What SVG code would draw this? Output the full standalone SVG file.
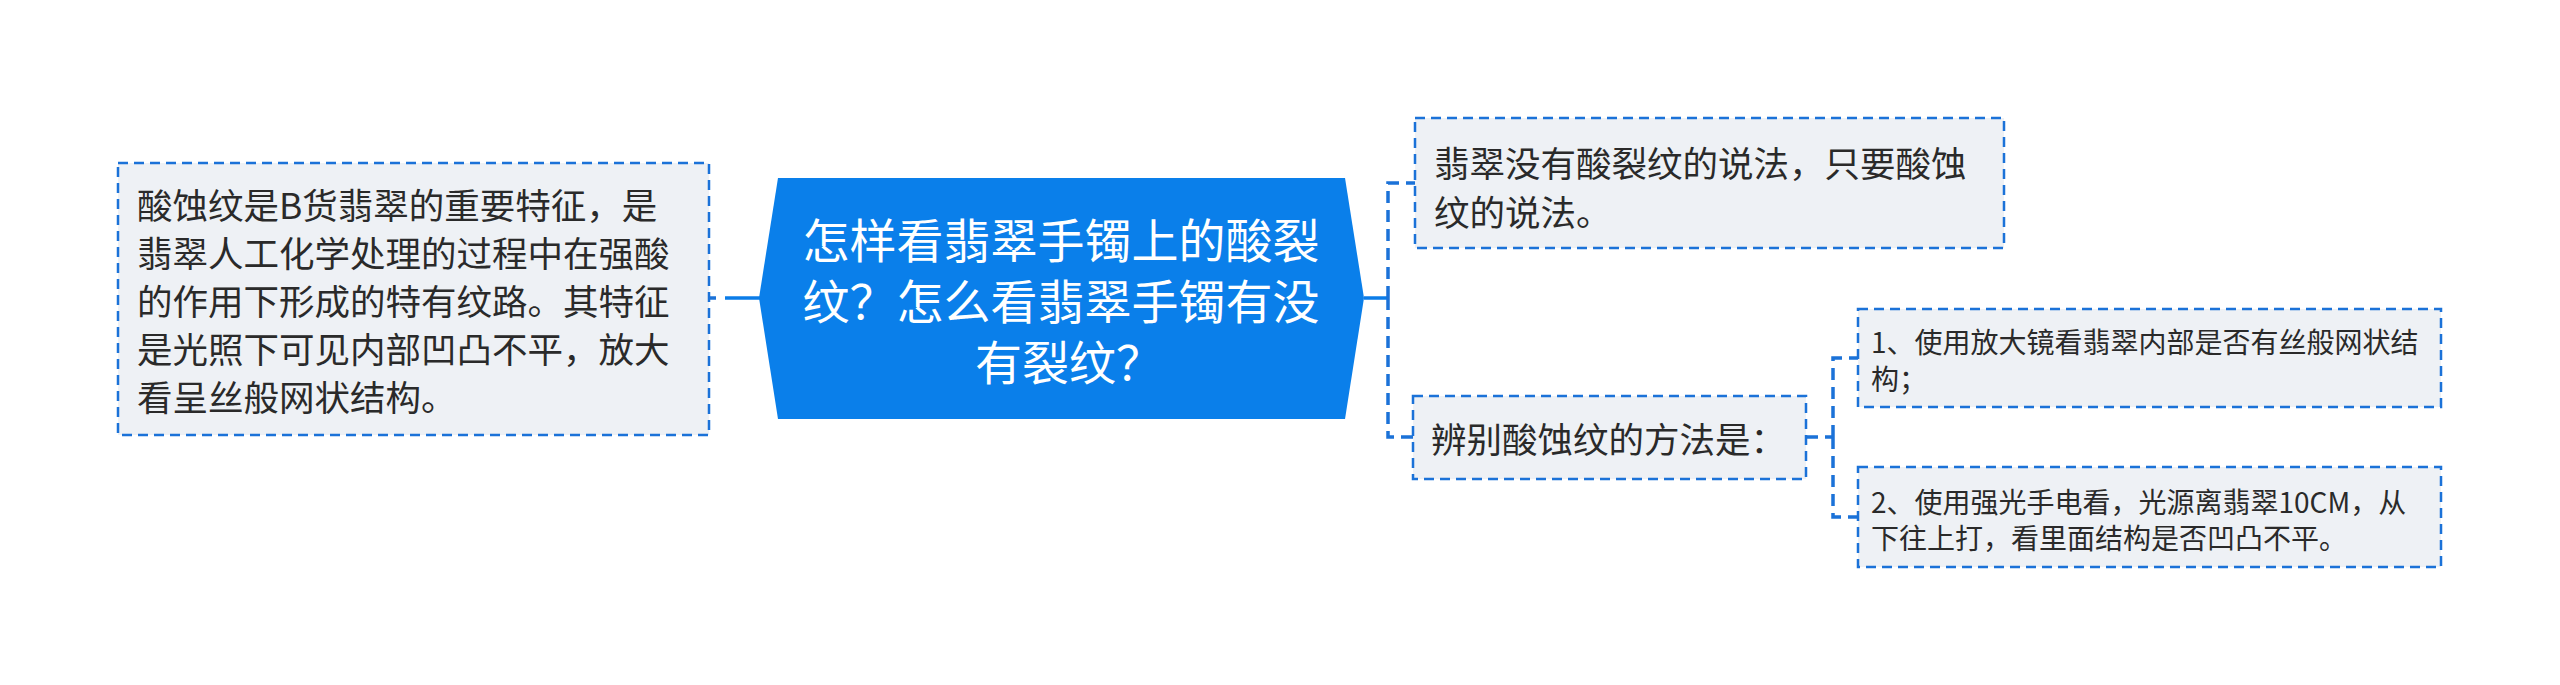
<svg xmlns="http://www.w3.org/2000/svg" width="2560" height="685" viewBox="0 0 2560 685">
<style>
.box{fill:#eef1f5;stroke:#1b72d8;stroke-width:2.5;stroke-dasharray:10 6}
.t{font-family:"Noto Sans CJK SC","Noto Sans",sans-serif;fill:#2a2a2a;dominant-baseline:central}
.big{font-size:35.5px}
.small{font-size:28px}
.ct{font-family:"Noto Sans CJK SC","Noto Sans",sans-serif;fill:#ffffff;font-size:47px;dominant-baseline:central;text-anchor:middle}
.solid{fill:none;stroke:#0b7ce8;stroke-width:3.5}
.dash{fill:none;stroke:#1b72d8;stroke-width:3.5;stroke-dasharray:12 7}
</style>
<rect width="2560" height="685" fill="#ffffff"/>
<g id="connectors">
<path class="solid" d="M760,298 H725"/>
<path class="dash" d="M716,298 H709"/>
<path class="solid" d="M1364,298 H1388"/>
<path class="dash" d="M1388,298 V183 H1415"/>
<path class="dash" d="M1388,298 V437 H1413"/>
<path class="dash" d="M1806,437 H1833"/>
<path class="dash" d="M1833,437 V358 H1858"/>
<path class="dash" d="M1833,437 V517 H1858"/>
</g>
<g id="center">
<polygon points="778,178 1345,178 1364,298 1345,419 778,419 759,298" fill="#0a7fea"/>
<text class="ct" x="1061" y="237">怎样看翡翠手镯上的酸裂</text>
<text class="ct" x="1061" y="298">纹？怎么看翡翠手镯有没</text>
<text class="ct" x="1069" y="359">有裂纹？</text>
</g>
<g id="left">
<rect class="box" x="118" y="163" width="591" height="272"/>
<text class="t big" x="137" y="203">酸蚀纹是B货翡翠的重要特征，是</text>
<text class="t big" x="137" y="251">翡翠人工化学处理的过程中在强酸</text>
<text class="t big" x="137" y="299">的作用下形成的特有纹路。其特征</text>
<text class="t big" x="137" y="347">是光照下可见内部凹凸不平，放大</text>
<text class="t big" x="137" y="395">看呈丝般网状结构。</text>
</g>
<g id="top">
<rect class="box" x="1415" y="118" width="589" height="130"/>
<text class="t big" x="1434" y="161">翡翠没有酸裂纹的说法，只要酸蚀</text>
<text class="t big" x="1434" y="210">纹的说法。</text>
</g>
<g id="middle">
<rect class="box" x="1413" y="396" width="393" height="83"/>
<text class="t big" x="1431" y="437">辨别酸蚀纹的方法是：</text>
</g>
<g id="sub1">
<rect class="box" x="1858" y="309" width="583" height="98"/>
<text class="t small" x="1871" y="341">1、使用放大镜看翡翠内部是否有丝般网状结</text>
<text class="t small" x="1871" y="378">构；</text>
</g>
<g id="sub2">
<rect class="box" x="1858" y="467" width="583" height="100"/>
<text class="t small" x="1871" y="501">2、使用强光手电看，光源离翡翠10CM，从</text>
<text class="t small" x="1871" y="537">下往上打，看里面结构是否凹凸不平。</text>
</g>
</svg>
